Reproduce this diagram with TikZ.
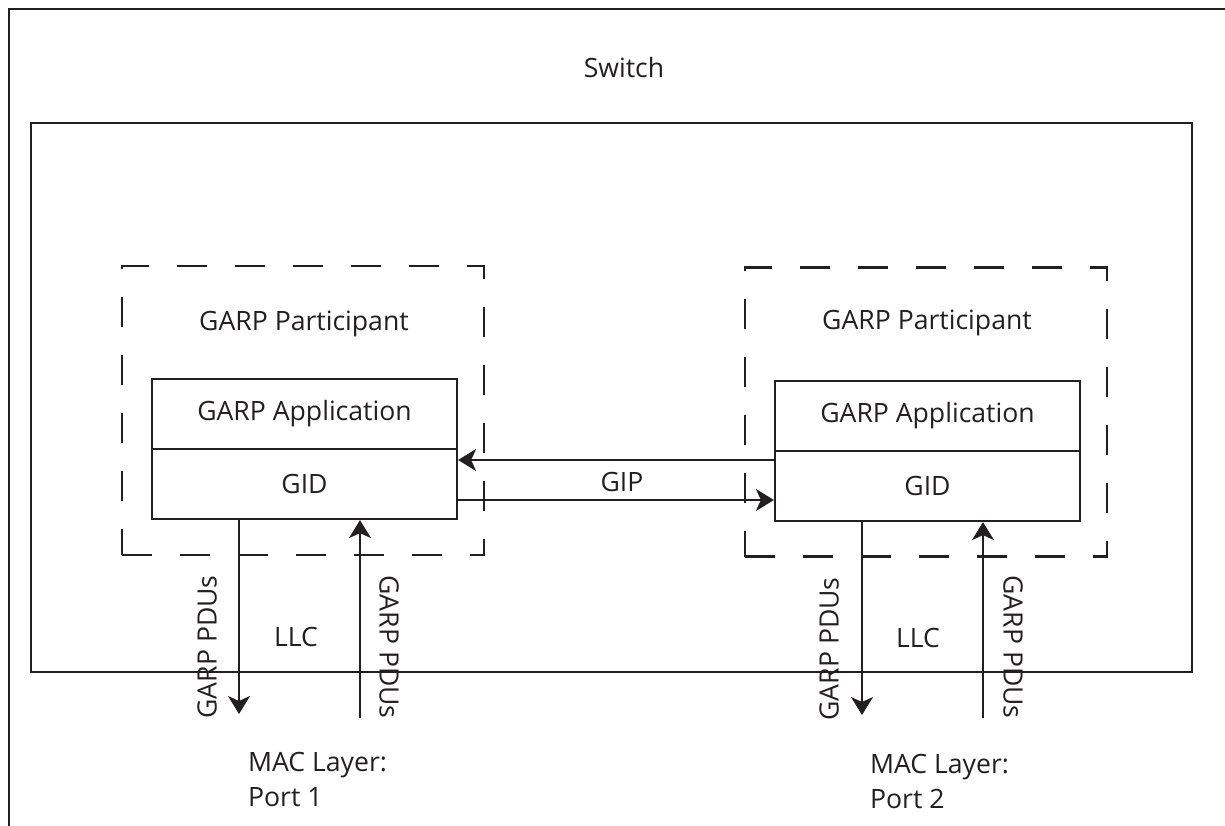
\documentclass[tikz,border=0pt]{standalone}
\usepackage{fontspec}
\setmainfont{Open Sans}
\usetikzlibrary{arrows.meta}
\definecolor{ink}{RGB}{35,31,32}
\newcommand\mydfont{\fontsize{13.3}{17.5}\selectfont}
\begin{document}
\begin{tikzpicture}[x=0.5pt,y=-0.5pt, line width=1.1pt, color=ink,
  every node/.style={font=\mydfont, text=ink},
  box/.style={draw, rectangle, minimum width=152.5pt, minimum height=35pt, inner sep=0pt},
  dbox/.style={draw, rectangle, dash pattern=on 15pt off 14pt, minimum width=181pt, minimum height=144.5pt, inner sep=0pt},
  swbox/.style={draw, rectangle, minimum width=580.5pt, minimum height=274.5pt, inner sep=0pt},
  lbl/.style={inner sep=0pt},
  arr/.style={-{Stealth[length=9pt,width=11pt,inset=2.5pt]}}]
\useasboundingbox (0,0) rectangle (1225,825);
% outer frame
\coordinate (otr) at (1226,9);
\coordinate (otl) at (9,9);
\coordinate (obl) at (9,826);
\draw (otr) -- (otl) -- (obl);
\node[lbl] (switch) at (624,68) {Switch};
% inner box
\node[swbox] (sw) at (611.5,397.5) {};
% participants
\node[dbox] (part1) at (303,410.5) {};
\node[dbox] (part2) at (926,412) {};
\node[lbl] (pl1) at (304,324) {GARP Participant};
\node[lbl] (pl2) at (927,323) {GARP Participant};
% boxes
\node[box] (app1) at (304.5,414) {GARP Application};
\node[box] (gid1) at (304.5,484) {GID};
\node[box] (app2) at (927.5,416) {GARP Application};
\node[box] (gid2) at (927.5,486) {GID};
% GIP
\coordinate (gipa) at (0,460);
\coordinate (gipb) at (0,500);
\draw[arr] (gid2.west |- gipa) -- (gid1.east |- gipa);
\draw[arr] (gid1.east |- gipb) -- (gid2.west |- gipb);
\node[lbl] (gip) at (622,482) {GIP};
% PDU arrows port 1
\coordinate (d1) at (239,714);
\coordinate (u1) at (360,718);
\draw[arr] (gid1.south -| d1) -- (d1);
\draw[arr] (u1) -- (gid1.south -| u1);
\node[lbl, rotate=90] (pdu1a) at (207,647) {GARP PDUs};
\node[lbl, rotate=-90] (pdu1b) at (389,647) {GARP PDUs};
\node[lbl] (llc1) at (296,637) {LLC};
\node[lbl, anchor=west, align=left] (mac1) at (247,779) {MAC Layer:\\Port 1};
% PDU arrows port 2
\coordinate (d2) at (862,715);
\coordinate (u2) at (983,718);
\draw[arr] (gid2.south -| d2) -- (d2);
\draw[arr] (u2) -- (gid2.south -| u2);
\node[lbl, rotate=90] (pdu2a) at (829,649) {GARP PDUs};
\node[lbl, rotate=-90] (pdu2b) at (1013,647) {GARP PDUs};
\node[lbl] (llc2) at (918,638) {LLC};
\node[lbl, anchor=west, align=left] (mac2) at (869,781) {MAC Layer:\\Port 2};
\end{tikzpicture}
\end{document}
